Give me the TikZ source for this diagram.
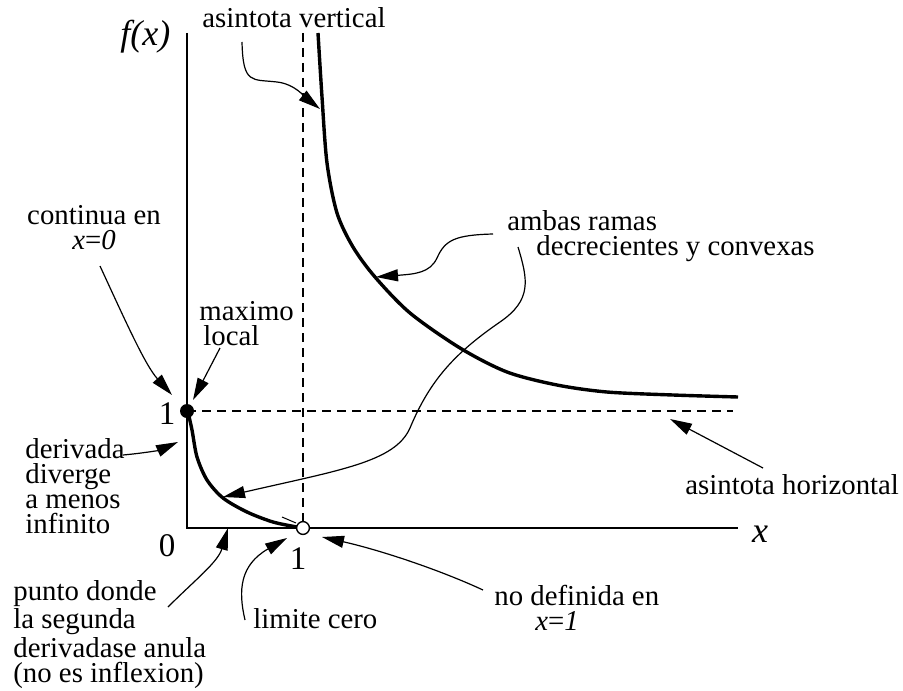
\documentclass[tikz,border=0pt]{standalone}
\usepackage{fontspec}
\setmainfont{Liberation Serif}
\usepackage{tikz}
\usetikzlibrary{arrows.meta}

\begin{document}
\begin{tikzpicture}[
    x=0.5pt, y=-0.5pt,
    lbl/.style={inner sep=0pt, anchor=base west, align=left, font=\fontsize{14.4}{12.5}\selectfont},
    num/.style={inner sep=0pt, anchor=base, font=\fontsize{16.5}{12.5}\selectfont},
    arr/.style={-{Triangle[length=11pt,width=6pt]}, line width=0.6pt},
    axis/.style={line width=0.7pt},
    branch/.style={line width=1.7pt},
    asym/.style={dash pattern=on 4.5pt off 3pt, line width=0.7pt}
]
\useasboundingbox (0,0) rectangle (903,690);

% ejes y asintotas
\draw[axis] (187,33) |- (738,528);
\draw[asym] (303,33) -- (303,528);
\draw[asym] (187,411) -- (733,411);

% las dos ramas
\draw[branch] plot[smooth] coordinates {(188,412) (192,430) (197,457) (207,480) (223,498) (247,512) (273,522) (297,527)};
\draw[branch] plot[smooth] coordinates {(318,33) (322,97) (327,163) (337,213) (353,247) (375,277) (410,313) (460,348) (507,372) (557,385) (607,392) (673,395) (738,397)};

\fill (187,411) circle (3.5pt);
\draw[axis, fill=white] (303,528) circle (3.2pt);

% etiquetas de los ejes
\node[num, anchor=base west, font=\fontsize{18}{12.5}\selectfont] (fx) at (120,46) {\textit{f(x)}};
\node[num, font=\fontsize{18}{12.5}\selectfont] (xlab) at (760,542) {\textit{x}};
\node[num] (zero) at (167,556) {0};
\node[num] (oney) at (167,424) {1};
\node[num] (onex) at (298,569) {1};

% textos (la base es la de la ultima linea)
\node[lbl] (va) at (202,28) {asintota vertical};
\node[lbl] (ambas) at (507,255) {ambas ramas\\\hspace*{14.5pt}decrecientes y convexas};
\node[lbl, anchor=base, align=center] (cont) at (94,249) {continua en\\\textit{x}=\textit{0}};
\node[lbl] (maxl) at (199,345) {maximo\\\hspace*{2pt}local};
\node[lbl] (deriv) at (25,533) {derivada\\diverge\\a menos\\infinito};
\node[lbl] (punto) at (13,682) {punto donde\\la segunda\\derivadase anula\\(no es inflexion)};
\node[lbl] (lim) at (253,628) {limite cero};
\node[lbl] (nodef) at (494,630) {no definida en\\\hspace*{20.5pt}\textit{x}=\textit{1}};
\node[lbl] (asinh) at (685,494) {asintota horizontal};

% extremos de las flechas
\coordinate (vaS) at (242,42);   \coordinate (vaM) at (277,82);  \coordinate (vaT) at (320,109);
\coordinate (amS) at (493,234);  \coordinate (amM) at (437,258); \coordinate (amT) at (376,277);
\coordinate (dcS) at (518,247);  \coordinate (dcA) at (500,322); \coordinate (dcB) at (410,428);
\coordinate (dcT) at (223,497);
\coordinate (coS) at (100,266);  \coordinate (coT) at (172,395);
\coordinate (mxS) at (220,348);  \coordinate (mxT) at (193,400);
\coordinate (deS) at (123,455);  \coordinate (deT) at (178,442);
\coordinate (puS) at (168,607);  \coordinate (puT) at (228,528);
\coordinate (liS) at (245,620);  \coordinate (liT) at (287,538);
\coordinate (ndS) at (483,590);  \coordinate (ndT) at (322,537);
\coordinate (ahS) at (763,468);  \coordinate (ahT) at (670,419);
\coordinate (tkA) at (282,517);  \coordinate (tkB) at (296,523);

\draw[arr] (vaS) .. controls +(1,43) and +(-25,-3) .. (vaM) .. controls +(18,2) and +(-14,-11) .. (vaT);
\draw[arr] (amS) .. controls +(-38,1) and +(8,-18) .. (amM) .. controls +(-7,15) and +(39,-3) .. (amT);
\draw[arr] (dcS) .. controls +(10,33) and +(32,-22) .. (dcA) .. controls +(-45,31) and +(20,-48) .. (dcB) .. controls +(-15,34) and +(117,-27) .. (dcT);
\draw[arr] (coS) .. controls +(25,54) and +(-27,-30) .. (coT);
\draw[arr] (mxS) -- (mxT);
\draw[arr] (deS) .. controls +(22,-2) and +(-18,8) .. (deT);
\draw[arr] (puS) .. controls +(27,-27) and +(-10,34) .. (puT);
\draw[arr] (liS) .. controls +(-7,-30) and +(-47,27) .. (liT);
\draw[arr] (ndS) .. controls +(-43,-20) and +(58,13) .. (ndT);
\draw[arr] (ahS) -- (ahT);
\draw[line width=0.5pt] (tkA) -- (tkB);
\end{tikzpicture}
\end{document}
